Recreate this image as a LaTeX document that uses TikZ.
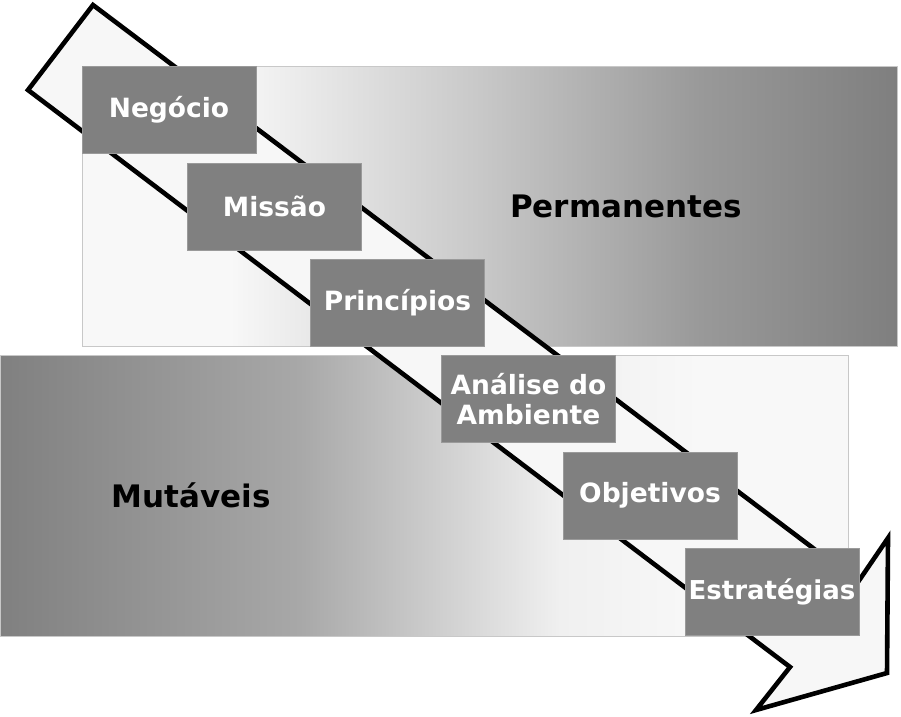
\documentclass[tikz,border=0pt]{standalone}
\usepackage{fontspec}
\setmainfont{DejaVu Sans}
\definecolor{boxgray}{HTML}{808080}
\definecolor{boxedge}{HTML}{9A9A9A}
\definecolor{rimgray}{HTML}{C8C8C8}
\definecolor{arrowfill}{HTML}{F7F7F7}
\definecolor{gA}{HTML}{F8F8F8}
\definecolor{gB}{HTML}{C8C8C8}
\definecolor{gC}{HTML}{999999}
\definecolor{gD}{HTML}{7F7F7F}
\definecolor{hA}{HTML}{808080}
\definecolor{hB}{HTML}{A8A8A8}
\definecolor{hC}{HTML}{F0F0F0}
\definecolor{hD}{HTML}{F8F8F8}
\tikzset{
  stepbox/.style={fill=boxgray, draw=boxedge, line width=0.8pt, minimum width=174pt,
    minimum height=87pt, inner sep=0pt, text=white, align=center,
    font=\bfseries\fontsize{26.5}{30}\selectfont},
  biglabel/.style={text=black, inner sep=0pt, font=\bfseries\fontsize{31}{36}\selectfont},
  rim/.style={draw=rimgray, line width=1pt},
  flow/.style={draw=black, fill=arrowfill, line width=4.6pt, line join=miter, miter limit=10}
}
\begin{document}
\begin{tikzpicture}[x=1pt,y=-1pt]
\useasboundingbox (0,0) rectangle (901,716);
% upper band (Permanentes)
\fill[gA] (82,66) rectangle (230,346);
\shade[left color=gA, right color=gB] (229.5,66) rectangle (480.5,346);
\shade[left color=gB, right color=gC] (480,66) rectangle (700.5,346);
\shade[left color=gC, right color=gD] (700,66) rectangle (897,346);
\draw[rim] (82,66) rectangle (897,346);
% lower band (Mutaveis)
\shade[left color=hA, right color=hB] (0,355) rectangle (300.5,636);
\shade[left color=hB, right color=hC] (300,355) rectangle (560.5,636);
\shade[left color=hC, right color=hD] (560,355) rectangle (700.5,636);
\fill[hD] (700,355) rectangle (848,636);
\draw[rim] (0,355) rectangle (848,636);
% big arrow
\draw[flow] (93,5) -- (858,582) -- (888,538) -- (887,673) -- (756,710) -- (790,667) -- (28,90) -- cycle;
% steps
\node[stepbox] (neg) at (169,109.5) {Negócio};
\node[stepbox] (mis) at (274.5,206.5) {Missão};
\node[stepbox] (pri) at (397.5,302.5) {Princípios};
\node[stepbox] (ana) at (528.5,399) {Análise do\\Ambiente};
\node[stepbox] (obj) at (650,495.5) {Objetivos};
\node[stepbox, font=\bfseries\fontsize{26}{30}\selectfont] (est) at (772,591.5) {Estratégias};
% band labels
\node[biglabel, anchor=base] (perm) at (626,217) {Permanentes};
\node[biglabel, anchor=base] (mut) at (191,507) {Mutáveis};
\end{tikzpicture}
\end{document}
